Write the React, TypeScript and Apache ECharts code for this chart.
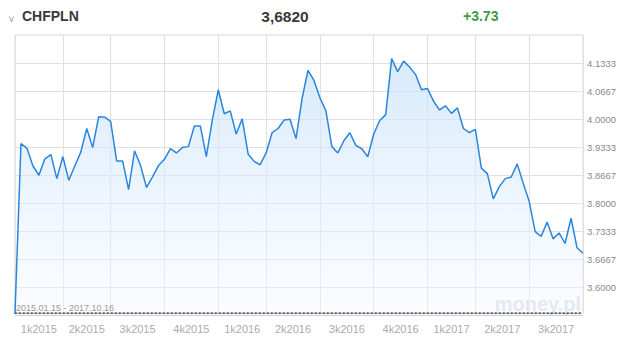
import React, { useEffect, useRef } from 'react';
import * as echarts from 'echarts';

const dates = [
  '2015-01-15', '2015-01-26', '2015-02-05', '2015-02-16', '2015-02-26', '2015-03-09', '2015-03-19', '2015-03-30',
  '2015-04-09', '2015-04-20', '2015-04-30', '2015-05-12', '2015-05-22', '2015-06-03', '2015-06-15', '2015-06-25',
  '2015-07-01', '2015-07-13', '2015-07-23', '2015-08-03', '2015-08-13', '2015-08-24', '2015-09-03', '2015-09-14', '2015-09-24',
  '2015-10-01', '2015-10-12', '2015-10-22', '2015-11-02', '2015-11-12', '2015-11-23', '2015-12-03', '2015-12-14', '2015-12-23',
  '2016-01-04', '2016-01-15', '2016-01-27', '2016-02-08', '2016-02-18', '2016-03-01', '2016-03-11', '2016-03-22',
  '2016-04-01', '2016-04-12', '2016-04-22', '2016-05-04', '2016-05-16', '2016-05-26', '2016-06-06', '2016-06-16', '2016-06-27',
  '2016-07-01', '2016-07-12', '2016-07-22', '2016-08-02', '2016-08-12', '2016-08-24', '2016-09-05', '2016-09-15', '2016-09-26',
  '2016-10-03', '2016-10-13', '2016-10-24', '2016-11-03', '2016-11-15', '2016-11-25', '2016-12-06', '2016-12-16', '2016-12-28',
  '2017-01-09', '2017-01-19', '2017-01-31', '2017-02-10', '2017-02-22', '2017-03-06', '2017-03-16', '2017-03-27',
  '2017-04-03', '2017-04-13', '2017-04-25', '2017-05-08', '2017-05-18', '2017-05-30', '2017-06-09', '2017-06-20', '2017-06-30',
  '2017-07-03', '2017-07-13', '2017-07-25', '2017-08-04', '2017-08-16', '2017-08-28', '2017-09-07', '2017-09-19', '2017-09-29',
  '2017-10-16',
];

const rates = [
  3.54, 3.942, 3.931, 3.889, 3.867, 3.906, 3.916, 3.859,
  3.911, 3.855, 3.889, 3.922, 3.978, 3.933, 4.006, 4.005,
  3.995, 3.901, 3.901, 3.833, 3.925, 3.89, 3.838, 3.863, 3.89,
  3.905, 3.93, 3.92, 3.933, 3.935, 3.984, 3.984, 3.911, 3.998,
  4.07, 4.013, 4.02, 3.965, 4.001, 3.917, 3.9, 3.892,
  3.92, 3.968, 3.978, 3.998, 4.0, 3.954, 4.048, 4.116, 4.092,
  4.051, 4.02, 3.935, 3.92, 3.949, 3.968, 3.938, 3.93, 3.911,
  3.965, 3.997, 4.011, 4.144, 4.113, 4.138, 4.124, 4.106, 4.07,
  4.073, 4.043, 4.022, 4.032, 4.014, 4.027, 3.978, 3.968,
  3.976, 3.884, 3.871, 3.811, 3.84, 3.859, 3.863, 3.894, 3.848,
  3.805, 3.733, 3.722, 3.756, 3.716, 3.73, 3.705, 3.765, 3.695,
  3.682,
];

const quarterLabels = [
  '1k2015', '2k2015', '3k2015', '4k2015', '1k2016', '2k2016',
  '3k2016', '4k2016', '1k2017', '2k2017', '3k2017',
];

const yTicks = [3.6, 3.666667, 3.733333, 3.8, 3.866667, 3.933333, 4.0, 4.066667, 4.133333];
const yMin = 3.54;
const yMax = 4.2;

const title = 'CHFPLN';
const lastValue = '3,6820';
const change = '+3.73';
const rangeText = '2015.01.15 - 2017.10.16';

const quarterOf = (d: string) => d.slice(0, 4) + '-' + Math.floor((parseInt(d.slice(5, 7), 10) - 1) / 3);
const quarterStarts: number[] = [];
dates.forEach((d, i) => {
  if (i === 0 || quarterOf(d) !== quarterOf(dates[i - 1])) quarterStarts.push(i);
});
if (quarterStarts[quarterStarts.length - 1] !== dates.length - 1) quarterStarts.push(dates.length - 1);
const quarterMids: number[] = [];
for (let q = 0; q < quarterStarts.length - 1; q++) {
  quarterMids.push((quarterStarts[q] + quarterStarts[q + 1]) / 2);
}

export default function App() {
  const ref = useRef<HTMLDivElement>(null);
  useEffect(() => {
    if (!ref.current) return;
    const chart = echarts.init(ref.current, undefined, { renderer: 'svg' });
    chart.setOption({
      animation: false,
      backgroundColor: '#ffffff',
      grid: {
        left: 15,
        right: 37,
        top: 35,
        bottom: 34,
        show: true,
        borderColor: '#d8d8d8',
        borderWidth: 1,
      },
      xAxis: [
        {
          type: 'category',
          data: dates,
          boundaryGap: false,
          axisLine: { show: true, lineStyle: { color: '#222', type: [1.5, 2.5], width: 1.5 } },
          axisTick: { show: false },
          axisLabel: { show: false },
          splitLine: {
            show: true,
            interval: (index: number) => quarterStarts.indexOf(index) >= 0,
            lineStyle: { color: '#e0e0e0', width: 1 },
          },
        },
        {
          type: 'value',
          min: 0,
          max: dates.length - 1,
          position: 'bottom',
          axisLine: { show: false },
          axisTick: { show: false },
          splitLine: { show: false },
          axisLabel: {
            customValues: quarterMids,
            formatter: (v: number) => {
              let best = 0;
              quarterMids.forEach((m, i) => {
                if (Math.abs(m - v) < Math.abs(quarterMids[best] - v)) best = i;
              });
              return quarterLabels[best];
            },
            color: '#ababab',
            fontSize: 11,
            fontFamily: 'Arial, "Liberation Sans", sans-serif',
            margin: 10,
          },
        },
      ],
      yAxis: {
        type: 'value',
        position: 'right',
        min: yMin,
        max: yMax,
        axisLine: { show: false },
        axisTick: { show: false, customValues: yTicks },
        axisLabel: {
          customValues: yTicks,
          formatter: (v: number) => v.toFixed(4),
          color: '#8a8a8a',
          fontSize: 9.5,
          fontFamily: 'Arial, "Liberation Sans", sans-serif',
          margin: 4,
        },
        splitLine: { show: true, lineStyle: { color: '#e0e0e0', width: 1 } },
      },
      graphic: [
        {
          type: 'text',
          x: 11.5,
          y: 19,
          style: {
            text: '˅',
            fill: '#9a9a9a',
            font: '10px Arial, sans-serif',
            align: 'center',
            verticalAlign: 'middle',
          },
        },
        {
          type: 'text',
          left: 22,
          top: 9,
          style: { text: title, fill: '#3a3a3a', font: 'bold 14px Arial, "Liberation Sans", sans-serif' },
        },
        {
          type: 'text',
          x: 285,
          y: 16,
          style: {
            text: lastValue,
            fill: '#3a3a3a',
            font: 'bold 15.5px Arial, "Liberation Sans", sans-serif',
            align: 'center',
            verticalAlign: 'middle',
          },
        },
        {
          type: 'text',
          x: 463,
          y: 16,
          style: {
            text: change,
            fill: '#3e9a48',
            font: 'bold 14px Arial, "Liberation Sans", sans-serif',
            align: 'left',
            verticalAlign: 'middle',
          },
        },
        {
          type: 'text',
          x: 581,
          y: 314,
          z: 0,
          style: {
            text: 'money.pl',
            fill: '#dadde4',
            font: 'bold 20px Arial, "Liberation Sans", sans-serif',
            align: 'right',
            verticalAlign: 'bottom',
          },
        },
        {
          type: 'text',
          x: 16,
          y: 308,
          z: 100,
          style: {
            text: rangeText,
            fill: '#9a9a9a',
            font: '9px Arial, "Liberation Sans", sans-serif',
            align: 'left',
            verticalAlign: 'middle',
          },
        },
        {
          type: 'line',
          shape: { x1: 15, y1: 315.5, x2: 583, y2: 315.5 },
          style: { stroke: '#d0d0d0', lineWidth: 1 },
        },
      ],
      series: [
        {
          type: 'line',
          data: rates,
          xAxisIndex: 0,
          yAxisIndex: 0,
          symbol: 'none',
          smooth: false,
          lineStyle: { color: '#2a86dc', width: 1.5 },
          itemStyle: { color: '#2a86dc' },
          areaStyle: {
            color: new echarts.graphic.LinearGradient(0, 0, 0, 1, [
              { offset: 0, color: 'rgba(196, 223, 250, 0.95)' },
              { offset: 1, color: 'rgba(244, 249, 255, 0.6)' },
            ]),
          },
          z: 3,
        },
      ],
    });
    return () => chart.dispose();
  }, []);
  return (
    <div
      ref={ref}
      style={{ position: 'fixed', left: 0, top: 0, width: 620, height: 347, background: '#fff' }}
    />
  );
}
